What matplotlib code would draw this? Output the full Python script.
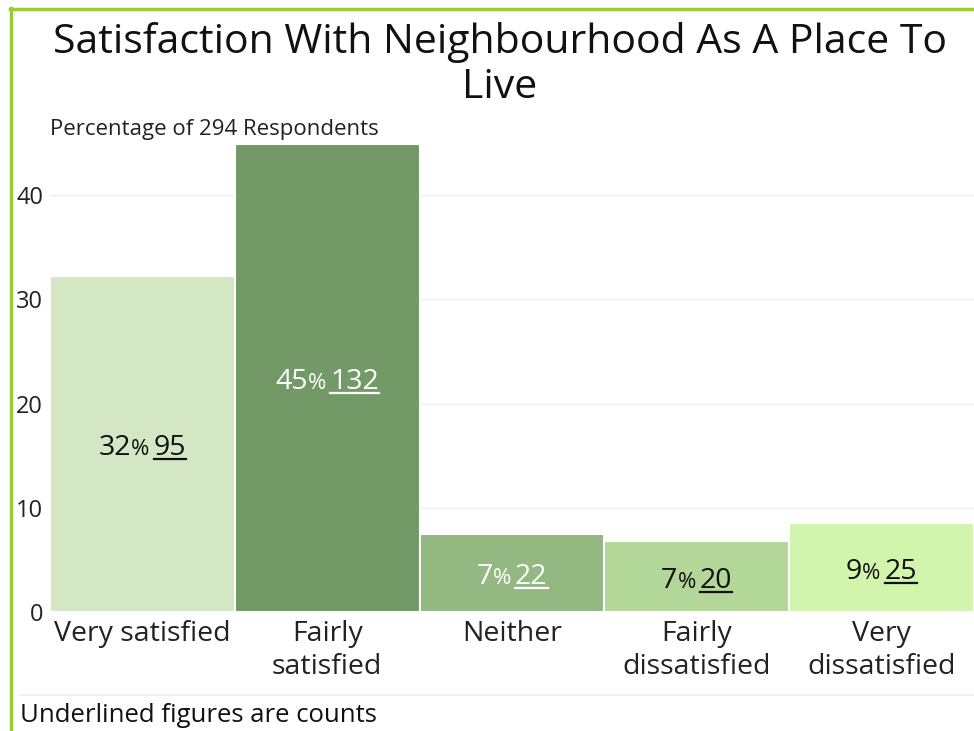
import matplotlib
matplotlib.use("Agg")
import matplotlib.pyplot as plt
from matplotlib.lines import Line2D

plt.rcParams['font.family'] = ['Open Sans', 'DejaVu Sans']

categories = ['Very satisfied', 'Fairly\nsatisfied', 'Neither', 'Fairly\ndissatisfied', 'Very\ndissatisfied']
percents = [32.3, 44.9, 7.5, 6.8, 8.5]
counts = [95, 132, 22, 20, 25]
pct_labels = ['32', '45', '7', '7', '9']
bar_colors = ['#d4e7c5', '#739a66', '#93b881', '#b3d798', '#d2f5ae']
text_colors = ['#111111', 'white', 'white', '#111111', '#111111']
yticks = [0, 10, 20, 30, 40]

W, H = 974, 731
fig = plt.figure(figsize=(W / 100, H / 100), dpi=100)
ax = fig.add_axes([50 / W, 1 - 612 / H, 924 / W, (612 - 138) / H])

x = list(range(len(categories)))
ax.bar(x, percents, width=1.0, color=bar_colors, edgecolor='white', linewidth=1.5, zorder=2)
ax.set_xlim(-0.5, len(categories) - 0.5)
ax.set_ylim(0, 45.5)
ax.set_yticks(yticks)
ax.set_xticks(x)
ax.set_xticklabels(categories, fontsize=20.5, color='#222222', linespacing=1.22)
ax.tick_params(axis='both', length=0)
ax.tick_params(axis='x', pad=6)
ax.tick_params(axis='y', labelsize=17, labelcolor='#222222', pad=5)
for s in ax.spines.values():
    s.set_visible(False)
ax.grid(axis='y', color='#eeeeee', linewidth=1, zorder=1)
ax.set_axisbelow(True)

# bar labels: "32% 95" with the count underlined
fig.canvas.draw()
renderer = fig.canvas.get_renderer()
inv = ax.transData.inverted()
for i, (p, pl, c, tc) in enumerate(zip(percents, pct_labels, counts, text_colors)):
    y = p / 2
    t1 = ax.text(i, y, pl, fontsize=20.5, color=tc, ha='left', va='baseline', zorder=4)
    t2 = ax.text(i, y, '%', fontsize=16, color=tc, ha='left', va='baseline', zorder=4)
    t3 = ax.text(i, y, str(c), fontsize=20.5, color=tc, ha='left', va='baseline', zorder=4)
    w1 = t1.get_window_extent(renderer).width
    w2 = t2.get_window_extent(renderer).width
    w3 = t3.get_window_extent(renderer).width
    gap = 4
    total = w1 + w2 + gap + w3
    cx, cy = ax.transData.transform((i, y))
    base = cy - 11
    x0 = cx - total / 2
    t1.set_position(inv.transform((x0, base)))
    t2.set_position(inv.transform((x0 + w1, base)))
    t3.set_position(inv.transform((x0 + w1 + w2 + gap, base)))
    ux0 = x0 + w1 + w2 + gap
    fig.add_artist(Line2D([ux0 / W, (ux0 + w3) / W], [(base - 4) / H, (base - 4) / H],
                          color=tc, linewidth=1.6, zorder=5))

fig.text(500 / W, 1 - 22 / H, 'Satisfaction With Neighbourhood As A Place To\nLive',
         ha='center', va='top', fontsize=29.5, color='#111111', linespacing=1.15)
fig.text(50 / W, 1 - 130 / H, 'Percentage of 294 Respondents', ha='left', va='center',
         fontsize=16, color='#222222')
fig.text(20 / W, 1 - 715 / H, 'Underlined figures are counts', ha='left', va='center',
         fontsize=18.5, color='#111111')

# separator line and green border
fig.add_artist(Line2D([20 / W, 1], [1 - 695 / H] * 2, color='#eeeeee', linewidth=1.2))
fig.add_artist(Line2D([11 / W, 11 / W], [0, 1 - 8 / H], color='#9acd32', linewidth=2.5))
fig.add_artist(Line2D([10 / W, 1], [1 - 9 / H] * 2, color='#9acd32', linewidth=2.5))

fig.savefig('out.png', dpi=100)
